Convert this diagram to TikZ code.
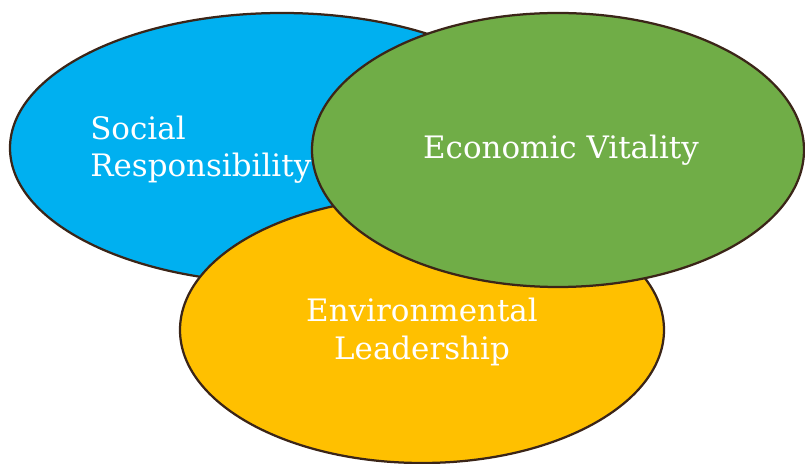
\documentclass[tikz,border=0pt]{standalone}
\usepackage{fontspec}
\setmainfont{DejaVu Serif}
\usepackage{tikz}
\usetikzlibrary{positioning}

\definecolor{socialblue}{HTML}{00B0F0}
\definecolor{econgreen}{HTML}{70AD47}
\definecolor{envyellow}{HTML}{FFC000}
\definecolor{rimbrown}{HTML}{3B2518}

\begin{document}
\begin{tikzpicture}[x=0.025cm, y=-0.025cm,
  blob/.style={draw=rimbrown, line width=1.6pt},
  label/.style={text=white, font=\fontsize{22}{26.5}\selectfont, inner sep=0pt}]
\useasboundingbox (0,0) rectangle (805,464);
% social responsibility
\draw[blob, fill=socialblue] (282,148) ellipse [x radius=272, y radius=135];
% environmental leadership
\draw[blob, fill=envyellow] (422,330) ellipse [x radius=242, y radius=133];
% economic vitality
\draw[blob, fill=econgreen] (558,150) ellipse [x radius=246, y radius=137];

\node[label, align=left, anchor=west] (social) at (90,150) {Social\\Responsibility};
\node[label] (econ) at (561,150) {Economic Vitality};
\node[label, align=center] (env) at (422,332) {Environmental\\Leadership};
\end{tikzpicture}
\end{document}
